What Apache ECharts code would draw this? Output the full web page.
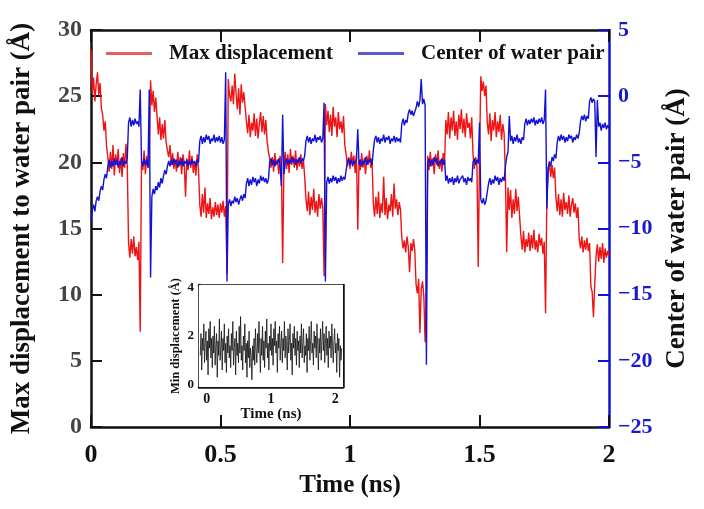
<!DOCTYPE html>
<html><head><meta charset="utf-8">
<script src="https://cdn.jsdelivr.net/npm/echarts@6/dist/echarts.min.js"></script>
<style>html,body{margin:0;padding:0;background:#fff}#c{width:704px;height:509px}</style>
</head><body><div id="c"></div>
<script>
// ---- data ----
const xTicks = [0, 0.5, 1, 1.5, 2];
const leftTicks = [0, 5, 10, 15, 20, 25, 30];
const rightTicks = [-25, -20, -15, -10, -5, 0, 5];
const insetXTicks = [0, 1, 2];
const insetYTicks = [0, 2, 4];
const mainStep = 0.005;   // ns between samples, main traces (start at 0 ns)
const insetStart = -0.1;  // ns, inset trace spans the whole inset box
const insetStep = 0.011;  // ns between samples, inset trace

// Max displacement to water pair (Å), t = 0 ... 2 ns
const maxDisp = [
28.5,25.2,26.4,24.6,25.9,26.8,25.1,26.0,24.1,23.6,22.4,23.1,21.2,20.4,19.3,20.8,19.5,21.3,19.0,20.6,
19.8,21.0,19.2,20.3,18.9,20.7,19.6,21.4,19.8,13.9,12.8,14.2,13.1,14.4,12.9,13.6,12.6,14.0,7.2,20.1,
19.4,20.9,19.1,20.5,19.6,20.2,26.2,24.3,25.4,23.8,24.9,23.5,22.1,23.4,21.7,22.9,21.8,23.2,21.5,20.9,
20.4,21.3,19.8,20.7,19.5,20.2,19.3,20.8,19.7,20.4,19.1,20.6,19.9,17.4,20.3,19.4,20.9,19.6,20.5,19.2,
20.1,19.0,20.6,19.5,16.8,15.9,17.6,16.2,18.1,15.8,16.9,16.1,17.3,15.7,16.6,15.9,17.0,16.0,16.8,15.8,
16.9,16.2,17.1,15.9,16.7,11.6,26.3,25.1,24.6,25.8,24.4,26.7,25.2,24.0,25.6,23.6,25.9,24.5,25.3,24.2,
23.1,22.2,23.6,21.9,23.0,22.4,23.7,22.0,23.3,21.8,22.9,23.8,22.3,23.5,22.1,23.2,21.6,20.8,20.3,19.6,
20.4,19.3,20.7,19.8,20.2,19.1,20.5,19.7,12.4,19.9,20.8,19.5,20.6,19.2,21.0,19.8,20.5,19.6,20.9,19.4,
20.3,19.7,20.6,19.5,20.2,18.9,17.2,16.3,17.8,16.0,17.4,16.4,18.0,16.2,17.1,15.9,17.6,16.5,17.3,16.6,
11.4,24.4,22.8,23.9,22.3,23.6,22.0,24.2,22.7,23.4,21.9,23.8,22.5,23.1,22.2,23.5,21.3,20.6,19.7,20.4,
19.5,20.8,19.9,20.5,19.2,20.6,14.9,20.1,19.4,20.7,19.6,20.3,19.1,20.5,19.8,20.9,19.6,20.2,16.9,15.9,
17.4,16.1,17.8,15.8,16.9,16.2,18.9,16.0,17.3,15.7,16.8,16.3,17.6,15.9,18.4,16.5,17.2,16.0,17.0,16.4,
14.3,13.5,14.1,13.2,14.4,13.6,11.7,13.9,13.3,14.2,13.4,10.8,10.1,11.2,7.1,10.4,11.0,9.9,6.4,10.6,
20.5,19.4,20.8,19.7,20.3,19.1,20.6,19.8,20.9,19.5,20.2,19.3,20.7,19.9,23.2,22.1,23.8,21.8,23.4,22.4,
23.9,22.0,23.1,21.7,23.6,22.5,24.0,22.2,23.3,21.9,23.7,22.6,23.0,21.8,23.4,20.6,19.5,20.4,19.8,12.1,
20.2,26.5,25.4,26.1,25.0,25.8,23.0,22.1,23.7,21.6,23.2,22.4,23.8,21.9,23.1,22.3,23.6,21.7,22.9,22.2,
19.0,13.2,18.1,16.4,17.9,15.8,17.2,16.1,18.0,16.3,17.4,15.9,14.4,13.4,14.8,13.2,14.2,13.6,14.7,13.3,
14.5,13.5,14.9,13.4,14.1,13.2,14.6,13.7,14.3,13.1,14.0,8.6,17.3,19.2,20.1,18.9,19.8,18.8,19.6,17.4,
16.3,17.6,16.0,17.2,15.9,17.7,16.4,17.0,16.1,17.5,15.9,16.8,17.3,16.2,16.9,15.8,16.6,14.2,13.5,14.4,
13.2,14.1,13.4,14.3,13.3,13.9,10.6,10.2,8.3,10.8,12.9,13.8,12.5,13.6,12.7,13.9,12.4,13.5,12.8,13.3,
12.9
];

// Center of water pair (Å), t = 0 ... 2 ns
const centerPair = [
-9.5,-8.6,-8.2,-8.7,-7.9,-7.6,-7.9,-7.2,-6.8,-7.1,-6.3,-5.9,-6.2,-5.3,-4.8,-5.4,-4.9,-5.3,-4.7,-5.2,
-4.8,-5.4,-4.9,-5.2,-4.6,-5.3,-4.9,-5.1,-4.7,-2.0,-1.6,-2.3,-1.8,-2.2,-1.7,-2.1,-1.9,-2.3,0.5,-4.9,
-5.3,-4.7,-5.2,-4.8,-5.4,0.5,-13.7,-7.6,-7.0,-7.4,-6.8,-7.1,-6.5,-6.9,-6.2,-6.6,-6.0,-5.6,-5.9,-5.3,
-4.9,-5.3,-4.8,-5.2,-4.7,-5.1,-4.8,-5.4,-4.9,-5.2,-4.7,-5.3,-4.9,-5.1,-4.8,-5.3,-4.9,-5.2,-4.8,-5.1,
-4.9,-5.3,-4.8,-5.0,-3.4,-3.0,-3.6,-3.1,-3.5,-2.9,-3.3,-3.0,-3.6,-3.2,-3.4,-2.9,-3.5,-3.1,-3.4,-3.0,
-3.5,-3.1,-3.6,-3.3,1.8,-14.0,-8.2,-7.8,-8.3,-7.9,-8.1,-7.6,-8.0,-7.7,-8.2,-7.8,-7.5,-7.9,-7.4,-7.7,
-6.6,-6.2,-6.8,-6.3,-6.7,-6.1,-6.5,-6.2,-6.8,-6.3,-6.6,-6.0,-6.4,-6.1,-6.5,-6.2,-6.6,-6.3,-5.0,-4.7,
-5.2,-4.8,-5.3,-4.9,-5.1,-4.7,-5.2,-6.8,-1.4,-5.9,-5.0,-4.7,-5.2,-4.8,-5.1,-4.6,-5.0,-4.7,-5.2,-4.8,
-5.0,-4.6,-5.1,-4.7,-4.9,-4.5,-3.4,-3.0,-3.5,-3.1,-3.6,-3.2,-3.4,-2.9,-3.5,-3.1,-3.3,-3.0,-3.5,-3.2,
-0.5,-14.0,-6.5,-6.1,-6.6,-6.2,-6.5,-6.0,-6.4,-6.1,-6.6,-6.2,-6.5,-6.0,-6.4,-6.1,-6.3,-5.6,-5.0,-4.7,
-5.2,-4.8,-5.3,-4.9,-5.1,-4.7,-2.5,-5.2,-4.8,-5.3,-4.9,-5.1,-4.6,-5.2,-4.8,-5.0,-4.7,-5.2,-4.1,-3.3,
-3.0,-3.5,-3.1,-3.6,-3.2,-3.4,-2.9,-3.5,-3.1,-3.3,-3.0,-3.6,-3.2,-3.4,-3.0,-3.5,-3.1,-3.4,-3.2,-3.5,
-2.1,-1.7,-2.2,-1.8,-2.0,-1.3,-1.0,-1.4,-1.1,-1.5,-1.2,-0.9,-0.4,-0.8,-0.3,1.3,-0.6,-0.2,-0.7,-20.3,
-5.1,-4.7,-5.3,-4.8,-5.2,-4.6,-5.0,-4.7,-5.3,-4.9,-5.1,-4.7,-5.2,-4.8,-6.4,-6.0,-6.6,-6.2,-6.5,-6.1,
-6.7,-6.2,-6.5,-6.0,-6.6,-6.3,-6.4,-6.0,-6.5,-6.2,-6.7,-6.1,-6.4,-6.2,-6.5,-5.0,-4.7,-5.2,-4.8,-5.1,
-2.0,-7.8,-8.1,-7.7,-8.2,-7.9,-8.0,-6.6,-6.2,-6.7,-6.3,-6.6,-6.0,-6.4,-6.1,-6.7,-6.2,-6.5,-6.1,-6.4,
-5.3,-4.6,-4.2,-1.5,-3.4,-3.0,-3.6,-3.1,-3.4,-2.9,-3.5,-3.2,-3.6,-3.1,-3.3,-2.1,-1.7,-2.2,-1.8,-2.1,
-1.7,-2.0,-1.6,-2.2,-1.8,-2.1,-1.7,-2.0,-1.6,-2.1,-1.8,0.5,-8.5,-5.4,-5.0,-5.3,-4.6,-4.9,-4.4,-4.7,
-3.5,-3.0,-3.4,-2.9,-3.3,-3.0,-3.5,-3.1,-3.4,-2.9,-3.2,-3.0,-3.5,-3.1,-3.3,-2.9,-3.2,-2.8,-1.9,-1.5,
-1.8,-1.4,-1.9,-1.5,-1.7,-0.4,-0.1,-0.5,-0.2,-0.4,-4.6,-0.3,-2.3,-2.0,-2.6,-2.1,-2.4,-2.0,-2.5,-2.2,
-2.4
];

// Inset: Min displacement (Å)
const minDisp = [
1.2,2.1,0.6,1.9,1.4,2.5,0.9,1.7,2.2,1.0,1.8,0.4,2.3,1.5,2.6,1.1,1.9,0.7,2.0,1.3,
2.4,0.8,1.6,2.1,0.3,1.8,1.2,2.7,1.0,1.5,2.2,0.6,1.9,1.4,2.5,0.9,1.7,0.5,2.0,1.3,
2.3,1.1,1.6,0.7,2.1,1.4,2.6,0.8,1.5,1.9,0.4,2.2,1.2,1.7,0.9,2.4,1.3,2.8,1.0,1.6,
0.6,2.0,1.4,2.5,0.9,1.7,0.3,1.8,1.1,2.2,0.7,1.5,1.2,0.2,1.6,1.0,1.9,0.8,2.3,1.4,
0.9,2.1,1.3,2.6,1.6,0.5,1.9,1.2,2.4,1.0,1.8,0.7,2.2,1.5,2.7,1.1,1.7,0.6,2.0,1.4,
2.5,1.2,1.9,0.8,2.3,1.6,2.6,1.3,1.8,0.5,2.1,1.5,2.4,1.0,1.7,2.2,0.9,1.9,1.4,2.6,
1.1,2.0,1.6,0.6,2.3,1.3,1.8,2.5,1.0,1.7,0.4,2.1,1.5,2.4,1.2,1.9,0.8,2.2,1.4,1.8,
0.7,2.0,1.3,2.5,1.1,1.7,2.3,0.9,1.6,1.2,2.1,0.5,1.9,1.4,2.4,1.0,1.8,2.6,1.3,1.7,
0.8,2.2,1.5,2.0,1.1,2.5,1.6,0.6,1.9,1.3,2.3,1.0,1.8,2.6,1.4,2.1,0.9,1.7,2.4,1.2,
1.9,0.7,2.2,1.5,2.0,1.1,2.5,1.6,0.9,1.8,2.3,1.3,1.7,0.5,2.1,1.4,1.9,0.3,1.6,1.0,
1.5
];

// ---- chart ----
const toPairs = (vals, t0, step) => vals.map((v, i) => [+(t0 + i * step).toFixed(4), v]);
const serif = "'Liberation Serif','DejaVu Serif',serif";
const RED = '#ee1414', BLUE = '#1212d6';
const minus = v => String(v).replace('-', '\u2212');

const chart = echarts.init(document.getElementById('c'), null, {renderer: 'canvas'});
chart.setOption({
  animation: false,
  backgroundColor: '#fff',
  grid: [
    {left: 91, top: 30, width: 518, height: 397, containLabel: false},
    {left: 199, top: 285, width: 144, height: 102, show: true, backgroundColor: '#fff', borderWidth: 0, z: 5}
  ],
  legend: [
    {left: 101, top: 38, itemWidth: 46, itemHeight: 3, icon: 'rect', selectedMode: false,
     data: [{name: 'Max displacement', itemStyle: {color: '#e26060'}}],
     textStyle: {fontFamily: serif, fontWeight: 'bold', fontSize: 21, color: '#111', padding: [0, 0, 0, 12]}},
    {left: 353, top: 38, itemWidth: 46, itemHeight: 3, icon: 'rect', selectedMode: false,
     data: [{name: 'Center of water pair', itemStyle: {color: '#5a5ad0'}}],
     textStyle: {fontFamily: serif, fontWeight: 'bold', fontSize: 21, color: '#111', padding: [0, 0, 0, 12]}}
  ],
  xAxis: [
    {gridIndex: 0, type: 'value', position: 'bottom', min: xTicks[0], max: xTicks[xTicks.length - 1], interval: 0.5,
     axisLine: {onZero: false, lineStyle: {color: '#111', width: 2.5}},
     axisTick: {inside: true, length: 12, lineStyle: {color: '#111', width: 2}},
     splitLine: {show: false},
     axisLabel: {fontFamily: serif, fontWeight: 'bold', fontSize: 26, color: '#111', margin: 15},
     name: 'Time (ns)', nameLocation: 'middle', nameGap: 44,
     nameTextStyle: {fontFamily: serif, fontWeight: 'bold', fontSize: 25, color: '#111'}},
    {gridIndex: 0, type: 'value', position: 'top', min: xTicks[0], max: xTicks[xTicks.length - 1], interval: 0.5,
     axisLine: {onZero: false, lineStyle: {color: '#111', width: 2.5}},
     axisTick: {inside: true, length: 12, lineStyle: {color: '#111', width: 2}},
     splitLine: {show: false}, axisLabel: {show: false}},
    {gridIndex: 1, type: 'value', position: 'bottom', min: -0.12, max: 2.12,
     axisLine: {onZero: false, lineStyle: {color: '#111', width: 2.5}},
     axisTick: {inside: true, length: 3, customValues: [0, 0.5, 1, 1.5, 2], lineStyle: {color: '#111', width: 1}},
     splitLine: {show: false},
     axisLabel: {customValues: insetXTicks, fontFamily: serif, fontWeight: 'bold', fontSize: 14, color: '#111', margin: 5},
     name: 'Time (ns)', nameLocation: 'middle', nameGap: 19,
     nameTextStyle: {fontFamily: serif, fontWeight: 'bold', fontSize: 15, color: '#111'}},
    {gridIndex: 1, type: 'value', position: 'top', min: -0.12, max: 2.12,
     axisLine: {onZero: false, lineStyle: {color: '#111', width: 2.5}},
     axisTick: {inside: true, length: 3, customValues: [0, 0.5, 1, 1.5, 2], lineStyle: {color: '#111', width: 1}},
     splitLine: {show: false}, axisLabel: {show: false}}
  ],
  yAxis: [
    {gridIndex: 0, type: 'value', position: 'left', min: leftTicks[0], max: leftTicks[leftTicks.length - 1], interval: 5,
     axisLine: {show: true, onZero: false, lineStyle: {color: '#111', width: 2.5}},
     axisTick: {show: true, inside: true, length: 11, lineStyle: {color: '#111', width: 2}},
     splitLine: {show: false},
     axisLabel: {fontFamily: serif, fontWeight: 'bold', fontSize: 24, color: '#444', margin: 9},
     name: 'Max displacement to water pair (\u00C5)', nameLocation: 'middle', nameGap: 55, nameRotate: 90,
     nameTextStyle: {fontFamily: serif, fontWeight: 'bold', fontSize: 27, color: '#111'}},
    {gridIndex: 0, type: 'value', position: 'right', min: rightTicks[0], max: rightTicks[rightTicks.length - 1], interval: 5,
     axisLine: {show: true, onZero: false, lineStyle: {color: BLUE, width: 2.5}},
     axisTick: {show: true, inside: true, length: 11, lineStyle: {color: BLUE, width: 2}},
     splitLine: {show: false},
     axisLabel: {fontFamily: serif, fontWeight: 'bold', fontSize: 22, color: '#1a1acc', margin: 9, formatter: minus},
     name: 'Center of water pair (\u00C5)', nameLocation: 'middle', nameGap: 55, nameRotate: 90,
     nameTextStyle: {fontFamily: serif, fontWeight: 'bold', fontSize: 27, color: '#111'}},
    {gridIndex: 1, type: 'value', position: 'left', min: -0.1, max: 4.1,
     axisLine: {show: true, onZero: false, lineStyle: {color: '#111', width: 2.5}},
     axisTick: {show: false}, splitLine: {show: false},
     axisLabel: {customValues: insetYTicks, fontFamily: serif, fontWeight: 'bold', fontSize: 13, color: '#111', margin: 5},
     name: 'Min displacement (\u00C5)', nameLocation: 'middle', nameGap: 17, nameRotate: 90,
     nameTextStyle: {fontFamily: serif, fontWeight: 'bold', fontSize: 12.5, color: '#111'}},
    {gridIndex: 1, type: 'value', position: 'right', min: -0.1, max: 4.1,
     axisLine: {show: true, onZero: false, lineStyle: {color: '#111', width: 2.5}},
     axisTick: {show: false}, splitLine: {show: false}, axisLabel: {show: false}}
  ],
  series: [
    {name: 'Max displacement', type: 'line', xAxisIndex: 0, yAxisIndex: 0,
     data: toPairs(maxDisp, 0, mainStep), showSymbol: false, symbol: 'none',
     lineStyle: {color: RED, width: 1.4}, itemStyle: {color: RED}, z: 2},
    {name: 'Center of water pair', type: 'line', xAxisIndex: 0, yAxisIndex: 1,
     data: toPairs(centerPair, 0, mainStep), showSymbol: false, symbol: 'none',
     lineStyle: {color: BLUE, width: 1.4}, itemStyle: {color: BLUE}, z: 3},
    {name: 'Min displacement', type: 'line', xAxisIndex: 2, yAxisIndex: 2,
     data: toPairs(minDisp, insetStart, insetStep), showSymbol: false, symbol: 'none',
     lineStyle: {color: '#111', width: 0.8}, z: 6}
  ]
});
</script></body></html>
